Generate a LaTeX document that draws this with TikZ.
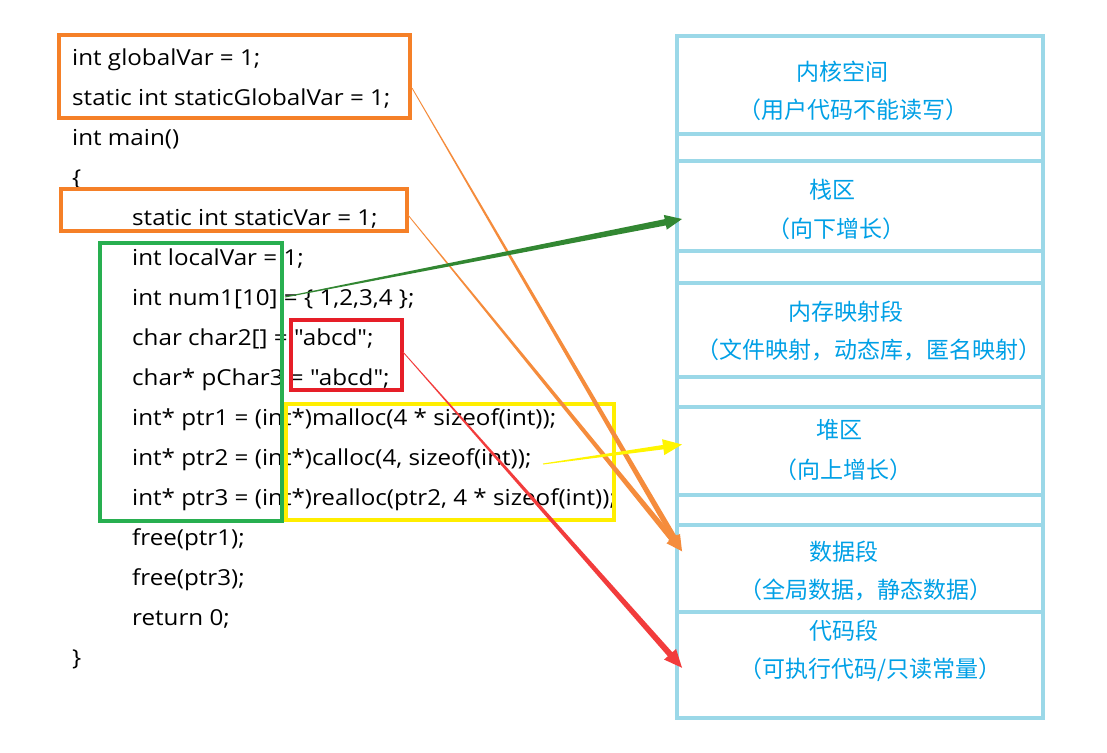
\documentclass[tikz,border=0pt]{standalone}
\usepackage{fontspec}
\usetikzlibrary{calc}
\newfontfamily\codefont[FakeStretch=1.1]{Open Sans}
\newfontfamily\cjk{Noto Sans CJK SC}
\definecolor{regionblue}{RGB}{155,216,232}
\definecolor{labelblue}{RGB}{0,160,230}
\definecolor{boxorange}{RGB}{245,128,40}
\definecolor{arrorange}{RGB}{245,140,60}
\definecolor{boxgreen}{RGB}{40,175,80}
\definecolor{arrgreen}{RGB}{50,135,50}
\definecolor{boxred}{RGB}{230,30,40}
\definecolor{arrred}{RGB}{242,60,60}
\definecolor{boxyellow}{RGB}{255,238,0}
\definecolor{arryellow}{RGB}{255,245,0}
\newcommand{\taperarrow}[7]{%
  \coordinate (tC) at ($(#3)!#6!(#2)$);
  \fill[#1] ($(#2)!#4!90:(#3)$) -- ($(tC)!#5!-90:(#2)$) -- ($(tC)!#7!-90:(#2)$) -- (#3)
     -- ($(tC)!#7!90:(#2)$) -- ($(tC)!#5!90:(#2)$) -- ($(#2)!#4!-90:(#3)$) -- cycle;}
\begin{document}
\begin{tikzpicture}[x=1pt,y=-1pt,
  region/.style={draw=regionblue,line width=4pt,inner sep=0,outer sep=0,minimum width=366pt},
  lbl/.style={text=labelblue,font=\cjk\fontsize{23}{27}\selectfont,inner sep=0},
  code/.style={anchor=base west,inner sep=0,font=\codefont\fontsize{22}{26}\selectfont},
  hl/.style={draw=#1,line width=4pt,inner sep=0,outer sep=0}]
\useasboundingbox (0,0) rectangle (1107,752);
\fill[white] (0,0) rectangle (1107,752);
% memory regions
\node[region,minimum height=97.5pt] (kernel) at (860,84.75) {};
\node[region,minimum height=27pt] (gapa) at (860,147) {};
\node[region,minimum height=90pt] (stack) at (860,205.5) {};
\node[region,minimum height=32pt] (gapb) at (860,266.5) {};
\node[region,minimum height=94pt] (mmap) at (860,329.5) {};
\node[region,minimum height=30pt] (gapc) at (860,391.5) {};
\node[region,minimum height=88pt] (heap) at (860,450.5) {};
\node[region,minimum height=30pt] (gapd) at (860,509.5) {};
\node[region,minimum height=87.5pt] (data) at (860,568.25) {};
\node[region,minimum height=105.5pt] (codeseg) at (860,664.75) {};
% labels
\node[lbl] (l1a) at (842,72) {内核空间};
\node[lbl] (l1b) at (853,110) {（用户代码不能读写）};
\node[lbl] (l2a) at (832,190) {栈区};
\node[lbl] (l2b) at (836,229) {（向下增长）};
\node[lbl] (l3a) at (846,312) {内存映射段};
\node[lbl] (l3b) at (869,350) {（文件映射，动态库，匿名映射）};
\node[lbl] (l4a) at (839,430) {堆区};
\node[lbl] (l4b) at (843,470) {（向上增长）};
\node[lbl] (l5a) at (844,552) {数据段};
\node[lbl] (l5b) at (866,590) {（全局数据，静态数据）};
\node[lbl] (l6a) at (844,631) {代码段};
\node[lbl] (l6b) at (870,670) {（可执行代码/只读常量）};
% code
\node[code] (c1) at (72,65) {int globalVar = 1;};
\node[code] (c2) at (72,105) {static int staticGlobalVar = 1;};
\node[code] (c3) at (72,145) {int main()};
\node[code] (c4) at (72,185) {\{};
\node[code] (c5) at (132,225) {static int staticVar = 1;};
\node[code] (c6) at (132,265) {int localVar = 1;};
\node[code] (c7) at (132,305) {int num1[10] = \{ 1,2,3,4 \};};
\node[code] (c8) at (132,345) {char char2[] = "abcd";};
\node[code] (c9) at (132,385) {char* pChar3 = "abcd";};
\node[code] (c10) at (132,425) {int* ptr1 = (int*)malloc(4 * sizeof(int));};
\node[code] (c11) at (132,465) {int* ptr2 = (int*)calloc(4, sizeof(int));};
\node[code] (c12) at (132,505) {int* ptr3 = (int*)realloc(ptr2, 4 * sizeof(int));};
\node[code] (c13) at (132,545) {free(ptr1);};
\node[code] (c14) at (132,585) {free(ptr3);};
\node[code] (c15) at (132,625) {return 0;};
\node[code] (c16) at (72,665) {\}};
% highlight boxes
\node[hl=boxorange,minimum width=351pt,minimum height=83pt] (glob) at (234.5,76.5) {};
\node[hl=boxorange,minimum width=346pt,minimum height=42pt] (stat) at (234,210) {};
\node[hl=boxgreen,minimum width=182pt,minimum height=278pt] (loc) at (191,382) {};
\node[hl=boxred,minimum width=111pt,minimum height=70pt] (str) at (346.5,355) {};
\node[hl=boxyellow,minimum width=328pt,minimum height=116pt] (heapc) at (450,462) {};
% arrow end points
\coordinate (sGlob) at ($(glob.east)+(2,11.5)$);
\coordinate (sStat) at ($(stat.east)+(1,5)$);
\coordinate (sLoc) at ($(loc.east)+(3,-85)$);
\coordinate (sStr) at ($(str.east)+(1,-3)$);
\coordinate (sHeap) at (543,464);
\coordinate (tData) at ($(data.west)+(5,-17)$);
\coordinate (tStack) at ($(stack.west)+(5,13.5)$);
\coordinate (tHeap) at ($(heap.west)+(5,-6)$);
\coordinate (tCode) at ($(codeseg.west)+(5,3)$);
% arrows
\taperarrow{arrorange}{sGlob}{tData}{0.4pt}{2.8pt}{16pt}{7pt}
\taperarrow{arrorange}{sStat}{tData}{0.4pt}{2.8pt}{16pt}{7pt}
\taperarrow{arrgreen}{sLoc}{tStack}{0.5pt}{3.2pt}{17pt}{7.5pt}
\taperarrow{arryellow}{sHeap}{tHeap}{0.5pt}{2.2pt}{19pt}{8pt}
\taperarrow{arrred}{sStr}{tCode}{0.4pt}{3pt}{18pt}{8pt}
\end{tikzpicture}
\end{document}
